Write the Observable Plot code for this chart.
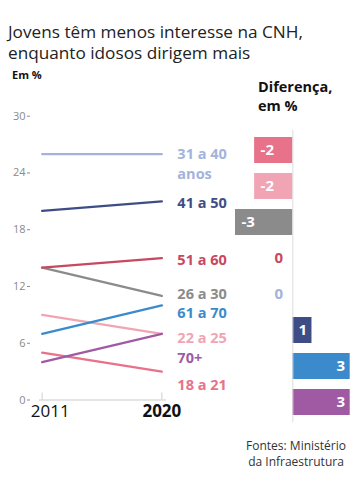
<!DOCTYPE html>
<html>
<head>
<meta charset="utf-8">
<script src="https://cdn.jsdelivr.net/npm/d3@7"></script>
<script src="https://cdn.jsdelivr.net/npm/@observablehq/plot@0.6"></script>
<style>
  html, body { margin: 0; padding: 0; background: #fff; }
  #page { position: relative; width: 360px; height: 504px; overflow: hidden; font-family: "Open Sans", "Noto Sans", sans-serif; }
  .abs { position: absolute; }
  .tline { left: 8px; font-size: 17.2px; line-height: 20px; color: #222; white-space: nowrap; }
  #t1 { top: 22px; }
  #t2 { top: 43px; }
  #unit { left: 12px; top: 68px; font-size: 11px; line-height: 14px; font-weight: 700; color: #111; }
  #diffTitle { left: 258px; top: 77px; font-size: 14.5px; line-height: 19px; font-weight: 700; color: #111; }
  #source { left: 236px; top: 438px; width: 120px; text-align: center; font-size: 12px; line-height: 16px; color: #333; }
  #left { left: 0; top: 100px; }
  #right { left: 222px; top: 100px; }
</style>
</head>
<body>
<div id="page">
  <div id="t1" class="abs tline">Jovens têm menos interesse na CNH,</div>
  <div id="t2" class="abs tline">enquanto idosos dirigem mais</div>
  <div id="unit" class="abs">Em %</div>
  <div id="diffTitle" class="abs">Diferença,<br>em %</div>
  <div id="left" class="abs"></div>
  <div id="right" class="abs"></div>
  <div id="source" class="abs">Fontes: Ministério<br>da Infraestrutura</div>
</div>
<script>
// ---- data ----
const groups = ["18 a 21", "22 a 25", "26 a 30", "31 a 40", "41 a 50", "51 a 60", "61 a 70", "70+"];
const v2011 = [5, 9, 14, 26, 20, 14, 7, 4];
const v2020 = [3, 7, 11, 26, 21, 15, 10, 7];
const lineLabels = ["18 a 21", "22 a 25", "26 a 30", "31 a 40\nanos", "41 a 50", "51 a 60", "61 a 70", "70+"];
const years = [2011, 2020];
const yTicks = [0, 6, 12, 18, 24, 30];
const diffGroups = ["18 a 21", "22 a 25", "26 a 30", "51 a 60", "31 a 40", "41 a 50", "61 a 70", "70+"];
const diffValues = [-2, -2, -3, 0, 0, 1, 3, 3];
const diffLabels = ["-2", "-2", "-3", "0", "0", "1", "3", "3"];

// ---- styles ----
const colors = {
  "18 a 21": "#e7728a",
  "22 a 25": "#f1a5b4",
  "26 a 30": "#8b8b8b",
  "31 a 40": "#a3b3dc",
  "41 a 50": "#3f4d86",
  "51 a 60": "#c8485f",
  "61 a 70": "#3b8bcc",
  "70+": "#a05aa3"
};
const labelDy = {
  "18 a 21": 11.5, "22 a 25": 3, "26 a 30": -3.5, "31 a 40": 8.5,
  "41 a 50": 0, "51 a 60": 0, "61 a 70": 6, "70+": 23
};
const FONT = "Open Sans, Noto Sans, sans-serif";

// ---- build tables ----
const rows = [];
groups.forEach((g, i) => {
  rows.push({group: g, year: years[0], value: v2011[i]});
  rows.push({group: g, year: years[1], value: v2020[i]});
});
const ends = groups.map((g, i) => ({group: g, label: lineLabels[i], year: years[1], value: v2020[i]}));
const diffs = diffGroups.map((g, i) => ({group: g, diff: diffValues[i], label: diffLabels[i]}));

// ---- left: slope chart ----
const left = Plot.plot({
  width: 240, height: 330,
  marginTop: 15.7, marginBottom: 30.5, marginLeft: 39, marginRight: 74,
  style: {fontFamily: FONT, background: "transparent", overflow: "visible"},
  x: {domain: [2010.8, 2020.35]},
  y: {domain: [0, 30]},
  color: {type: "identity"},
  marks: [
    Plot.axisY(yTicks, {tickSize: 3, tickPadding: 2, dx: -9, color: "#8a8a8a", fontSize: 11, label: null}),
    Plot.ruleY([0], {stroke: "#dcdcdc", strokeWidth: 1.5}),
    Plot.axisX(years, {tickSize: 7, dy: -7, tickFormat: () => "", stroke: "#cfcfcf", label: null}),
    Plot.text([years[0]], {x: d => d, frameAnchor: "bottom", dy: 17, dx: 8, text: d => String(d), fontSize: 17, fill: "#111"}),
    Plot.text([years[1]], {x: d => d, frameAnchor: "bottom", dy: 17, text: d => String(d), fontSize: 17, fontWeight: 700, fill: "#111"}),
    Plot.line(rows, {x: "year", y: "value", z: "group", stroke: d => colors[d.group], strokeWidth: 2.3}),
    ...ends.map(e => Plot.text([e], {
      x: "year", y: "value", text: "label", textAnchor: "start", dx: 15.5, dy: labelDy[e.group],
      fill: d => colors[d.group], fontSize: 14.5, fontWeight: 700, lineHeight: 1.38
    }))
  ]
});
document.getElementById("left").appendChild(left);

// ---- right: difference bars ----
const right = Plot.plot({
  width: 138, height: 330,
  marginTop: 29.7, marginBottom: 7.7, marginLeft: 13, marginRight: 10.3,
  style: {fontFamily: FONT, background: "transparent", overflow: "visible"},
  x: {domain: [-3, 3], axis: null},
  y: {domain: diffGroups, axis: null, paddingInner: 0.29, paddingOuter: 0.145},
  color: {type: "identity"},
  marks: [
    Plot.barX(diffs, {x: "diff", y: "group", fill: d => colors[d.group]}),
    Plot.ruleX([0], {stroke: "#dcdcdc", strokeWidth: 1}),
    Plot.text(diffs.filter(d => d.diff < 0), {x: "diff", y: "group", text: "label", textAnchor: "start", dx: 6, fill: "#fff", fontSize: 15, fontWeight: 700}),
    Plot.text(diffs.filter(d => d.diff > 0), {x: "diff", y: "group", text: "label", textAnchor: "end", dx: -5, fill: "#fff", fontSize: 15, fontWeight: 700}),
    Plot.text(diffs.filter(d => d.diff === 0), {x: "diff", y: "group", text: "label", textAnchor: "middle", dx: -14, fill: d => colors[d.group], fontSize: 15, fontWeight: 700})
  ]
});
document.getElementById("right").appendChild(right);
</script>
</body>
</html>
